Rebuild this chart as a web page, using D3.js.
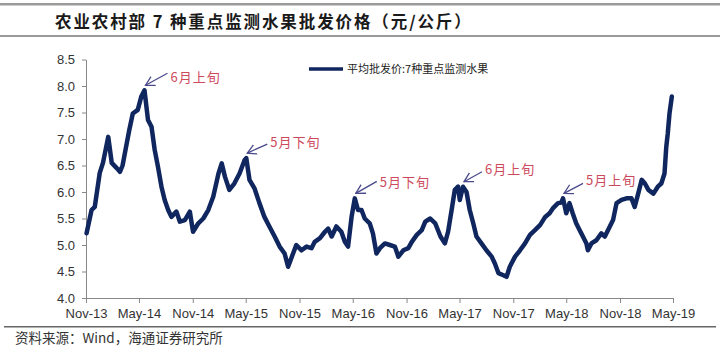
<!DOCTYPE html>
<html><head><meta charset="utf-8">
<script src="https://cdn.jsdelivr.net/npm/d3@7"></script>
<style>
html,body{margin:0;padding:0;background:#fff;}
svg{display:block;}
</style></head>
<body>
<svg id="c" width="720" height="351"></svg>
<script>
const title = "农业农村部 7 种重点监测水果批发价格（元/公斤）";
const source = "资料来源：Wind，海通证券研究所";
const legendLabel = "平均批发价:7种重点监测水果";
const tickLabels = ["Nov-13","May-14","Nov-14","May-15","Nov-15","May-16","Nov-16","May-17","Nov-17","May-18","Nov-18","May-19"];
const yTicks = [4.0,4.5,5.0,5.5,6.0,6.5,7.0,7.5,8.0,8.5];
const dates = ["2013-11-03","2013-11-20","2013-12-01","2013-12-18","2013-12-29","2014-01-16","2014-01-28","2014-02-14","2014-02-25","2014-03-06","2014-03-18","2014-03-29","2014-04-10","2014-04-27","2014-05-09","2014-05-20","2014-06-01","2014-06-13","2014-06-24","2014-07-05","2014-07-17","2014-07-28","2014-08-09","2014-08-20","2014-09-06","2014-09-18","2014-10-05","2014-10-22","2014-11-02","2014-11-20","2014-12-07","2014-12-24","2015-01-10","2015-01-28","2015-02-08","2015-02-19","2015-03-06","2015-03-23","2015-04-10","2015-04-27","2015-05-03","2015-05-14","2015-05-31","2015-06-17","2015-07-04","2015-07-21","2015-08-08","2015-08-25","2015-09-11","2015-09-23","2015-10-10","2015-10-21","2015-11-08","2015-11-25","2015-12-12","2015-12-23","2016-01-10","2016-01-27","2016-02-07","2016-02-19","2016-03-06","2016-03-23","2016-04-04","2016-04-15","2016-04-27","2016-05-08","2016-05-19","2016-05-31","2016-06-11","2016-06-28","2016-07-09","2016-07-21","2016-08-02","2016-08-19","2016-09-05","2016-09-22","2016-10-04","2016-10-21","2016-11-07","2016-11-19","2016-12-06","2016-12-23","2017-01-04","2017-01-21","2017-02-07","2017-02-25","2017-03-12","2017-03-23","2017-04-04","2017-04-15","2017-04-26","2017-05-02","2017-05-13","2017-05-25","2017-06-05","2017-06-17","2017-06-28","2017-07-15","2017-08-01","2017-08-19","2017-08-30","2017-09-11","2017-09-28","2017-10-09","2017-10-20","2017-11-07","2017-11-24","2017-12-11","2017-12-28","2018-01-14","2018-02-01","2018-02-18","2018-03-05","2018-03-16","2018-04-03","2018-04-14","2018-04-20","2018-05-01","2018-05-12","2018-05-23","2018-06-04","2018-06-16","2018-06-27","2018-07-09","2018-07-14","2018-07-26","2018-08-12","2018-08-29","2018-09-10","2018-09-27","2018-10-08","2018-10-20","2018-11-06","2018-11-23","2018-12-10","2018-12-21","2019-01-02","2019-01-14","2019-01-25","2019-02-06","2019-02-23","2019-03-10","2019-03-22","2019-04-02","2019-04-08","2019-04-13","2019-04-19","2019-04-27"];
const prices = [5.22,5.66,5.72,6.36,6.55,7.04,6.55,6.45,6.38,6.50,6.85,7.17,7.48,7.55,7.80,7.92,7.36,7.23,6.79,6.48,6.10,5.85,5.66,5.53,5.63,5.44,5.47,5.63,5.25,5.41,5.50,5.66,5.91,6.35,6.54,6.29,6.04,6.16,6.35,6.60,6.64,6.23,6.07,5.79,5.53,5.35,5.16,4.97,4.84,4.59,4.84,5.00,4.90,4.97,4.94,5.06,5.13,5.25,5.31,5.16,5.35,5.25,5.06,4.97,5.53,5.88,5.66,5.66,5.50,5.41,5.22,4.84,4.94,5.03,5.00,4.97,4.78,4.90,4.94,5.06,5.19,5.28,5.44,5.50,5.41,5.16,5.03,5.25,5.66,6.04,6.10,5.85,6.10,6.00,5.66,5.41,5.16,5.03,4.90,4.78,4.65,4.47,4.43,4.40,4.59,4.78,4.90,5.03,5.19,5.28,5.38,5.53,5.60,5.69,5.79,5.80,5.88,5.60,5.79,5.60,5.41,5.28,5.16,5.03,4.90,5.03,5.09,5.22,5.16,5.35,5.47,5.79,5.85,5.88,5.88,5.72,5.97,6.23,6.16,6.04,5.97,6.10,6.16,6.35,6.85,7.10,7.48,7.80];
const annLabels = ["6月上旬","5月下旬","5月下旬","6月上旬","5月上旬"];
const annDates = ["2014-05-20","2015-05-03","2016-05-08","2017-05-13","2018-04-20"];
const annValues = [7.92,6.64,5.88,6.10,5.88];

const svg = d3.select("#c");
const parse = d3.timeParse("%Y-%m-%d");
const tickParse = d3.timeParse("%b-%y");
const data = dates.map((d,i)=>({date:parse(d), v:prices[i]}));

const x = d3.scaleTime().domain([tickParse("Nov-13"), tickParse("May-19")]).range([86, 673]);
const y = d3.scaleLinear().domain([4.0, 8.5]).range([298, 59.5]);

// header rules and title
svg.append("rect").attr("x",0).attr("y",3).attr("width",720).attr("height",2.5).attr("fill","#9a9a9a");
svg.append("rect").attr("x",0).attr("y",35).attr("width",720).attr("height",2).attr("fill","#9a9a9a");
svg.append("text").attr("x",55).attr("y",28).text(title)
  .attr("font-family","'Noto Sans CJK SC'").attr("font-weight","bold").attr("font-size",16.5)
  .attr("letter-spacing",1.9).attr("fill","#1a1a1a");

// footer
svg.append("rect").attr("x",4).attr("y",326).attr("width",712).attr("height",1.5).attr("fill","#666");
svg.append("text").attr("x",15).attr("y",343).text(source)
  .attr("font-family","'Noto Sans CJK SC'").attr("font-size",13.5).attr("fill","#333");

// axes
const xAxis = d3.axisBottom(x).tickValues(tickLabels.map(tickParse)).tickFormat(d3.timeFormat("%b-%y")).tickSize(5).tickSizeOuter(0);
const gx = svg.append("g").attr("transform","translate(0,298)").call(xAxis);
gx.selectAll("text").attr("font-family","'Liberation Sans', Arial").attr("font-size",13).attr("fill","#333").attr("dy","0.95em");
gx.selectAll("line,path").attr("stroke","#888");

const yAxis = d3.axisLeft(y).tickValues(yTicks).tickFormat(d3.format(".1f")).tickSize(4).tickSizeOuter(0);
const gy = svg.append("g").attr("transform","translate(86,0)").call(yAxis);
gy.selectAll("text").attr("font-family","'Liberation Sans', Arial").attr("font-size",13).attr("fill","#333").attr("x",-11);
gy.selectAll("line,path").attr("stroke","#888");

// line
const line = d3.line().x(d=>x(d.date)).y(d=>y(d.v)).curve(d3.curveLinear);
svg.append("path").datum(data).attr("d",line).attr("fill","none")
  .attr("stroke","#10265e").attr("stroke-width",4.5).attr("stroke-linejoin","round").attr("stroke-linecap","round");

// legend
svg.append("line").attr("x1",309).attr("x2",343).attr("y1",69).attr("y2",69).attr("stroke","#10265e").attr("stroke-width",3.5);
svg.append("text").attr("x",347).attr("y",73).text(legendLabel)
  .attr("font-family","'Noto Sans CJK SC'").attr("font-size",11).attr("fill","#222");

// annotations
const defs = svg.append("defs");
defs.append("marker").attr("id","ah").attr("viewBox","0 -6 10 12").attr("refX",9).attr("refY",0)
  .attr("markerWidth",10).attr("markerHeight",12).attr("markerUnits","userSpaceOnUse").attr("orient","auto")
  .append("path").attr("d","M0,-5L9,0L0,5").attr("fill","none").attr("stroke","#4a4a8c").attr("stroke-width",1.3);
const annOffsets = [[23,-12],[21,-9],[22,-12],[19,-10],[20,-10]];
const annTextDy = [8.5,3,5.5,2.5,2];
annLabels.forEach((t,i)=>{
  const px = x(parse(annDates[i])), py = y(annValues[i]) - 5;
  const [dx,dy] = annOffsets[i];
  const sx = px + dx, sy = py + dy;
  svg.append("line").attr("x1",sx).attr("y1",sy).attr("x2",px+1).attr("y2",py).attr("stroke","#4a4a8c").attr("stroke-width",1.3).attr("marker-end","url(#ah)");
  svg.append("text").attr("x",sx+3).attr("y",sy+annTextDy[i]).text(t)
    .attr("font-family","'Noto Sans CJK SC'").attr("font-size",13).attr("fill","#cc4a5c").attr("letter-spacing",1);
});
</script>
</body></html>
